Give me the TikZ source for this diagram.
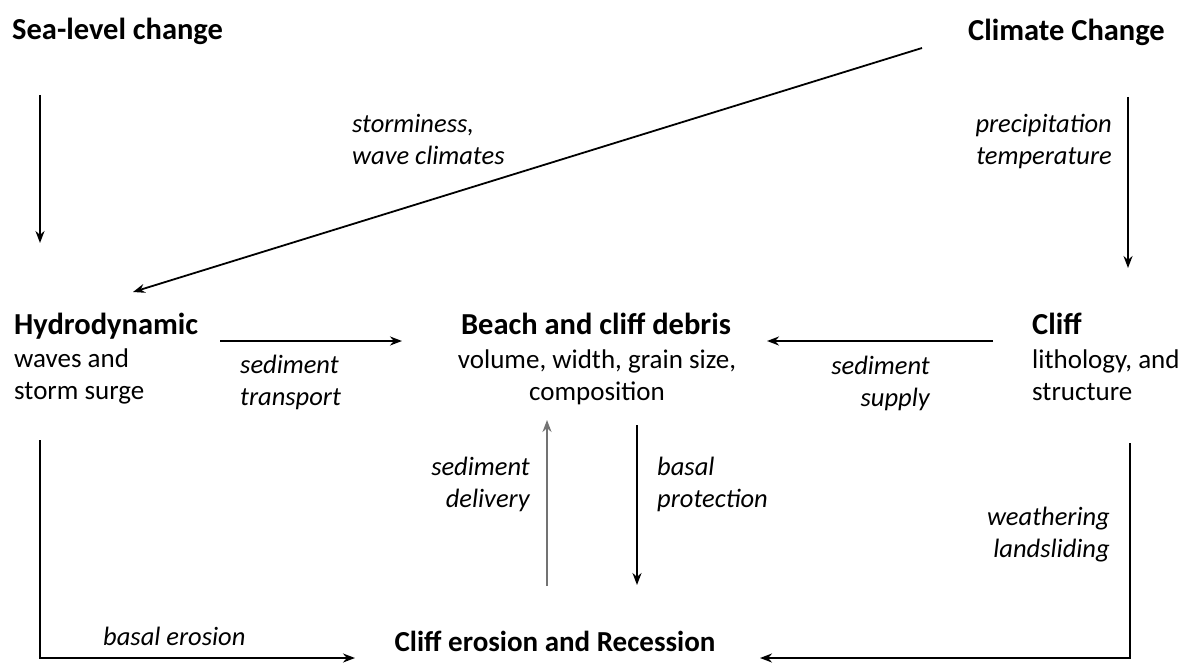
\documentclass[tikz,border=0pt]{standalone}
\usepackage{fontspec}
\setmainfont{Carlito}
\usetikzlibrary{arrows.meta, positioning}
\tikzset{
	>={Stealth[length=12pt,width=9pt]},
	arr/.style={->, line width=2pt},
	head/.style={inner sep=0pt, font=\fontsize{30.5}{34}\selectfont\bfseries},
	sub/.style={inner sep=0pt, font=\fontsize{27}{32}\selectfont},
	lab/.style={inner sep=0pt, font=\fontsize{26.5}{32}\selectfont\itshape},
}

\begin{document}
\begin{tikzpicture}[x=1pt, y=-1pt]
\useasboundingbox (0,0) rectangle (1190,666);

% --- Drivers ---
\node[head, anchor=base west] (sea) at (12,40) {Sea-level change};
\node[head, anchor=base east] (climate) at (1165,41) {Climate Change};

% --- Middle row ---
\node[head, anchor=base west] (hydro) at (14,334) {Hydrodynamic};
\node[sub, anchor=base west, align=left] (hydrosub) at (14,399) {waves and\\storm surge};

\node[head, anchor=base] (beach) at (596,334) {Beach and cliff debris};
\node[sub, anchor=base, align=center] (beachsub) at (597,400) {volume, width, grain size,\\composition};

\node[head, anchor=base west] (cliff) at (1032,334) {Cliff};
\node[sub, anchor=base west, align=left] (cliffsub) at (1032,400) {lithology, and\\structure};

% --- Outcome ---
\node[head, font=\fontsize{29}{34}\selectfont\bfseries, anchor=base] (recession) at (555,651) {Cliff erosion and Recession};

% --- Arrow ends ---
\coordinate (sea-s) at (40,95);
\coordinate (sea-e) at (40,243);
\coordinate (cc-s) at (1128,97);
\coordinate (cc-e) at (1128,268);
\coordinate (diag-s) at (922,48);
\coordinate (diag-e) at (133,292);
\coordinate (tr-s) at (220,341);
\coordinate (tr-e) at (402,341);
\coordinate (sup-s) at (993,341);
\coordinate (sup-e) at (767,341);
\coordinate (del-s) at (547,586);
\coordinate (del-e) at (547,420);
\coordinate (pro-s) at (637,425);
\coordinate (pro-e) at (637,585);
\coordinate (ero-s) at (40,440);
\coordinate (ero-c) at (40,658);
\coordinate (ero-e) at (355,658);
\coordinate (wea-s) at (1130,443);
\coordinate (wea-c) at (1130,658);
\coordinate (wea-e) at (760,658);

% --- Connectors ---
\draw[arr] (sea-s) -- (sea-e);
\draw[arr] (cc-s) -- (cc-e);
\draw[arr, line width=1.8pt] (diag-s) -- (diag-e);
\draw[arr] (tr-s) -- (tr-e);
\draw[arr] (sup-s) -- (sup-e);
\draw[arr, black!55] (del-s) -- (del-e);
\draw[arr] (pro-s) -- (pro-e);
\draw[arr] (ero-s) -- (ero-c) -- (ero-e);
\draw[arr] (wea-s) -- (wea-c) -- (wea-e);

% --- Labels ---
\node[lab, anchor=base east, align=right] (l-cc) at (1112,164) {precipitation\\temperature};
\node[lab, anchor=base west, align=left] (l-storm) at (352,164) {storminess,\\wave climates};
\node[lab, anchor=base west, align=left] (l-tr) at (240,405) {sediment\\transport};
\node[lab, anchor=base east, align=right] (l-sup) at (930,406) {sediment\\supply};
\node[lab, anchor=base east, align=right] (l-del) at (530,507) {sediment\\delivery};
\node[lab, anchor=base west, align=left] (l-pro) at (657,507) {basal\\protection};
\node[lab, anchor=base east, align=right] (l-wea) at (1110,557) {weathering\\landsliding};
\node[lab, anchor=base west] (l-ero) at (103,645) {basal erosion};
\end{tikzpicture}
\end{document}
